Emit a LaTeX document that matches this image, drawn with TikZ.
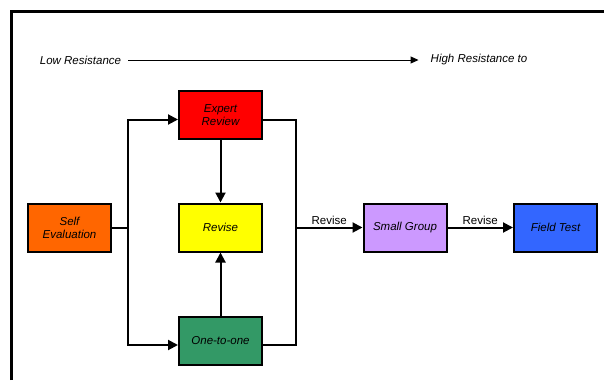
\documentclass[tikz,border=0pt]{standalone}
\usepackage{fontspec}
\setmainfont{Liberation Sans}
\usetikzlibrary{positioning,calc,arrows.meta}
\definecolor{selfcolor}{RGB}{255,102,0}
\definecolor{expertcolor}{RGB}{255,0,0}
\definecolor{revisecolor}{RGB}{255,255,0}
\definecolor{onecolor}{RGB}{51,153,102}
\definecolor{groupcolor}{RGB}{204,153,255}
\definecolor{fieldcolor}{RGB}{51,102,255}

\begin{document}
\begin{tikzpicture}[x=1pt, y=-1pt,
    stage/.style={rectangle, draw=black, line width=2pt, minimum width=83pt, minimum height=48pt, inner sep=1pt, align=center, font=\fontsize{11.5}{13}\selectfont\itshape},
    heading/.style={inner sep=0pt, font=\fontsize{11.5}{13}\selectfont\itshape},
    link/.style={line width=2pt},
    flow/.style={link, -{Triangle[length=10pt,width=10pt]}},
    label/.style={font=\fontsize{11.5}{13}\selectfont, inner sep=2pt}
]
\useasboundingbox (0,0) rectangle (604,380);

% Frame
\draw[line width=3pt] (11,380) |- (604,11);

% Resistance scale
\node[heading] (low) at (80.5,60) {Low Resistance};
\node[heading] (high) at (479,60) {High Resistance to};
\draw[line width=1pt, -{Triangle[length=8pt,width=7pt]}, shorten <=7pt, shorten >=12pt] (low.east) -- (high.west);

% Stages
\node[stage, fill=selfcolor] (self) at (69.5,227.5) {Self\\Evaluation};
\node[stage, fill=expertcolor] (expert) at (220.5,115) {Expert\\Review};
\node[stage, fill=revisecolor] (revise) at (220.5,227.5) {Revise};
\node[stage, fill=onecolor] (one) at (220.5,340.5) {One-to-one};
\node[stage, fill=groupcolor] (group) at (405,227.5) {Small Group};
\node[stage, fill=fieldcolor] (field) at (555.5,227.5) {Field Test};

% Branch points
\coordinate (split) at (128,227.5);
\coordinate (merge) at (296,227.5);

% Split to expert review and one-to-one
\draw[link] (self.east) -- (split);
\draw[flow] (split) |- ([yshift=-4.5pt]expert.west);
\draw[flow] (split) |- ([yshift=-4.5pt]one.west);

% Back to revise
\draw[flow] (expert) -- (revise);
\draw[flow] (one) -- (revise);

% Merge
\draw[link] ([yshift=-4.5pt]expert.east) -| (merge);
\draw[link] ([yshift=-4.5pt]one.east) -| (merge);

% Later stages
\draw[flow] (merge) -- node[label, above] {Revise} (group);
\draw[flow] (group) -- node[label, above] {Revise} (field);

\end{tikzpicture}
\end{document}
